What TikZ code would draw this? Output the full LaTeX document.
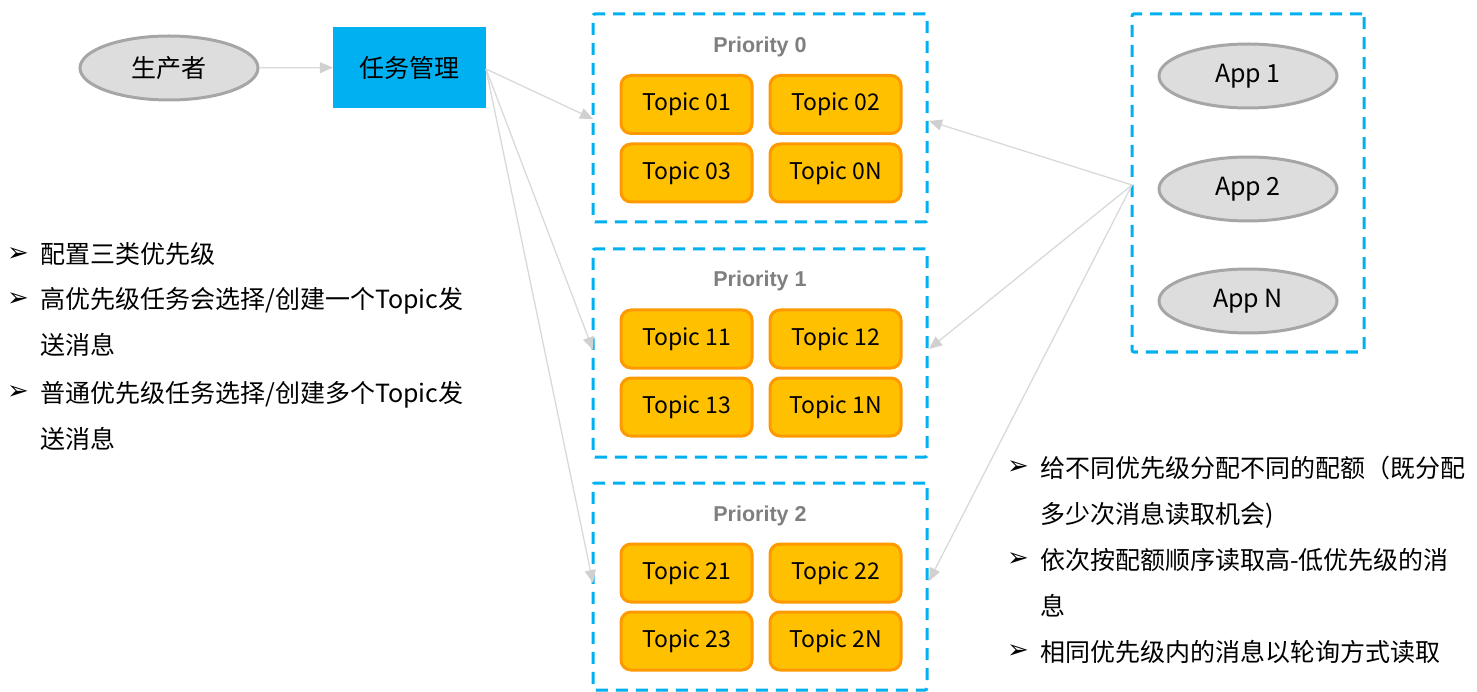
\documentclass[tikz,border=0pt]{standalone}
\usepackage{fontspec}
\setmainfont{Noto Sans CJK SC}
\newfontfamily\symfont{DejaVu Sans}
\newfontfamily\titlefont{Liberation Sans}
\usetikzlibrary{arrows.meta,shapes.geometric}
\definecolor{cyanb}{HTML}{00B0F0}
\definecolor{topicfill}{HTML}{FFC000}
\definecolor{topicdraw}{HTML}{FF9900}
\definecolor{ellfill}{HTML}{DDDDDD}
\definecolor{elldraw}{HTML}{A6A6A6}
\definecolor{arrowc}{HTML}{D9D9D9}
\definecolor{tipc}{HTML}{D0D0D0}
\definecolor{titlec}{HTML}{7F7F7F}
\begin{document}
\begin{tikzpicture}[x=1pt,y=-1pt,
  ell/.style={ellipse, draw=elldraw, fill=ellfill, line width=3pt, minimum width=178pt, minimum height=64pt, inner sep=0pt, font=\fontsize{25}{28}\selectfont},
  topicbox/.style={draw=topicdraw, fill=topicfill, rounded corners=10pt, line width=3pt, minimum width=131pt, minimum height=58pt, inner sep=0pt, font=\fontsize{23}{26}\selectfont},
  dbox/.style={draw=cyanb, line width=3pt, dash pattern=on 12pt off 8pt, rounded corners=2pt, inner sep=0pt},
  ptitle/.style={text=titlec, font=\titlefont\bfseries\fontsize{21.5}{24}\selectfont, inner sep=0pt},
  conn/.style={draw=arrowc, line width=1.3pt, -{Triangle[length=13pt,width=11pt,color=tipc]}},
  bul/.style={font=\symfont\fontsize{26}{26}\selectfont, inner sep=0pt},
  btext/.style={font=\fontsize{25}{46}\selectfont, align=left, anchor=base west, inner sep=0pt}
]
\useasboundingbox (0,0) rectangle (1477,692);

% producer and task manager
\node[ell] (prod) at (169,68) {生产者};
\node[fill=cyanb, minimum width=153pt, minimum height=81pt, inner sep=0pt, font=\fontsize{25}{30}\selectfont] (tm) at (409.5,67.5) {任务管理};
\draw[conn] (prod) -- (tm);

% priority boxes
\node[dbox, minimum width=334pt, minimum height=208pt] (p0) at (760,118) {};
\node[dbox, minimum width=334pt, minimum height=208pt] (p1) at (760,353) {};
\node[dbox, minimum width=334pt, minimum height=207pt] (p2) at (760,586.5) {};

\node[ptitle] (t0) at (760,47) {Priority 0};
\node[ptitle] (t1) at (760,281) {Priority 1};
\node[ptitle] (t2) at (760,516) {Priority 2};

\node[topicbox] (tp01) at (686.5,104.5) {Topic 01};
\node[topicbox] (tp02) at (835.5,104.5) {Topic 02};
\node[topicbox] (tp03) at (686.5,173) {Topic 03};
\node[topicbox] (tp0N) at (835.5,173) {Topic 0N};

\node[topicbox] (tp11) at (686.5,339) {Topic 11};
\node[topicbox] (tp12) at (835.5,339) {Topic 12};
\node[topicbox] (tp13) at (686.5,407) {Topic 13};
\node[topicbox] (tp1N) at (835.5,407) {Topic 1N};

\node[topicbox] (tp21) at (686.5,573) {Topic 21};
\node[topicbox] (tp22) at (835.5,573) {Topic 22};
\node[topicbox] (tp23) at (686.5,641) {Topic 23};
\node[topicbox] (tp2N) at (835.5,641) {Topic 2N};

% apps
\node[dbox, minimum width=232pt, minimum height=338pt] (apps) at (1248,183) {};
\node[ell] (app1) at (1248,76) {App 1};
\node[ell] (app2) at (1248,189) {App 2};
\node[ell] (appN) at (1248,301) {App N};

% connector end points
\coordinate (tms) at (486,69);
\coordinate (l0) at (593,119);
\coordinate (l1) at (593,350);
\coordinate (l2) at (593,583);
\coordinate (aps) at (1132,185);
\coordinate (r0) at (929,121);
\coordinate (r1) at (929,349);
\coordinate (r2) at (929,581);

\draw[conn] (tms) -- (l0);
\draw[conn] (tms) -- (l1);
\draw[conn] (tms) -- (l2);
\draw[conn] (aps) -- (r0);
\draw[conn] (aps) -- (r1);
\draw[conn] (aps) -- (r2);

% left bullets
\node[bul] (lb1) at (18,255) {➢};
\node[btext] (lt1) at (40,264) {配置三类优先级};
\node[bul] (lb2) at (18,300) {➢};
\node[btext] (lt2) at (40,355) {高优先级任务会选择/创建一个Topic发\\送消息};
\node[bul] (lb3) at (18,393) {➢};
\node[btext] (lt3) at (40,448) {普通优先级任务选择/创建多个Topic发\\送消息};

% right bullets
\node[bul] (rb1) at (1018,468) {➢};
\node[btext] (rt1) at (1040,523) {给不同优先级分配不同的配额（既分配\\多少次消息读取机会)};
\node[bul] (rb2) at (1018,560) {➢};
\node[btext] (rt2) at (1040,615) {依次按配额顺序读取高-低优先级的消\\息};
\node[bul] (rb3) at (1018,652) {➢};
\node[btext] (rt3) at (1040,661) {相同优先级内的消息以轮询方式读取};
\end{tikzpicture}
\end{document}
